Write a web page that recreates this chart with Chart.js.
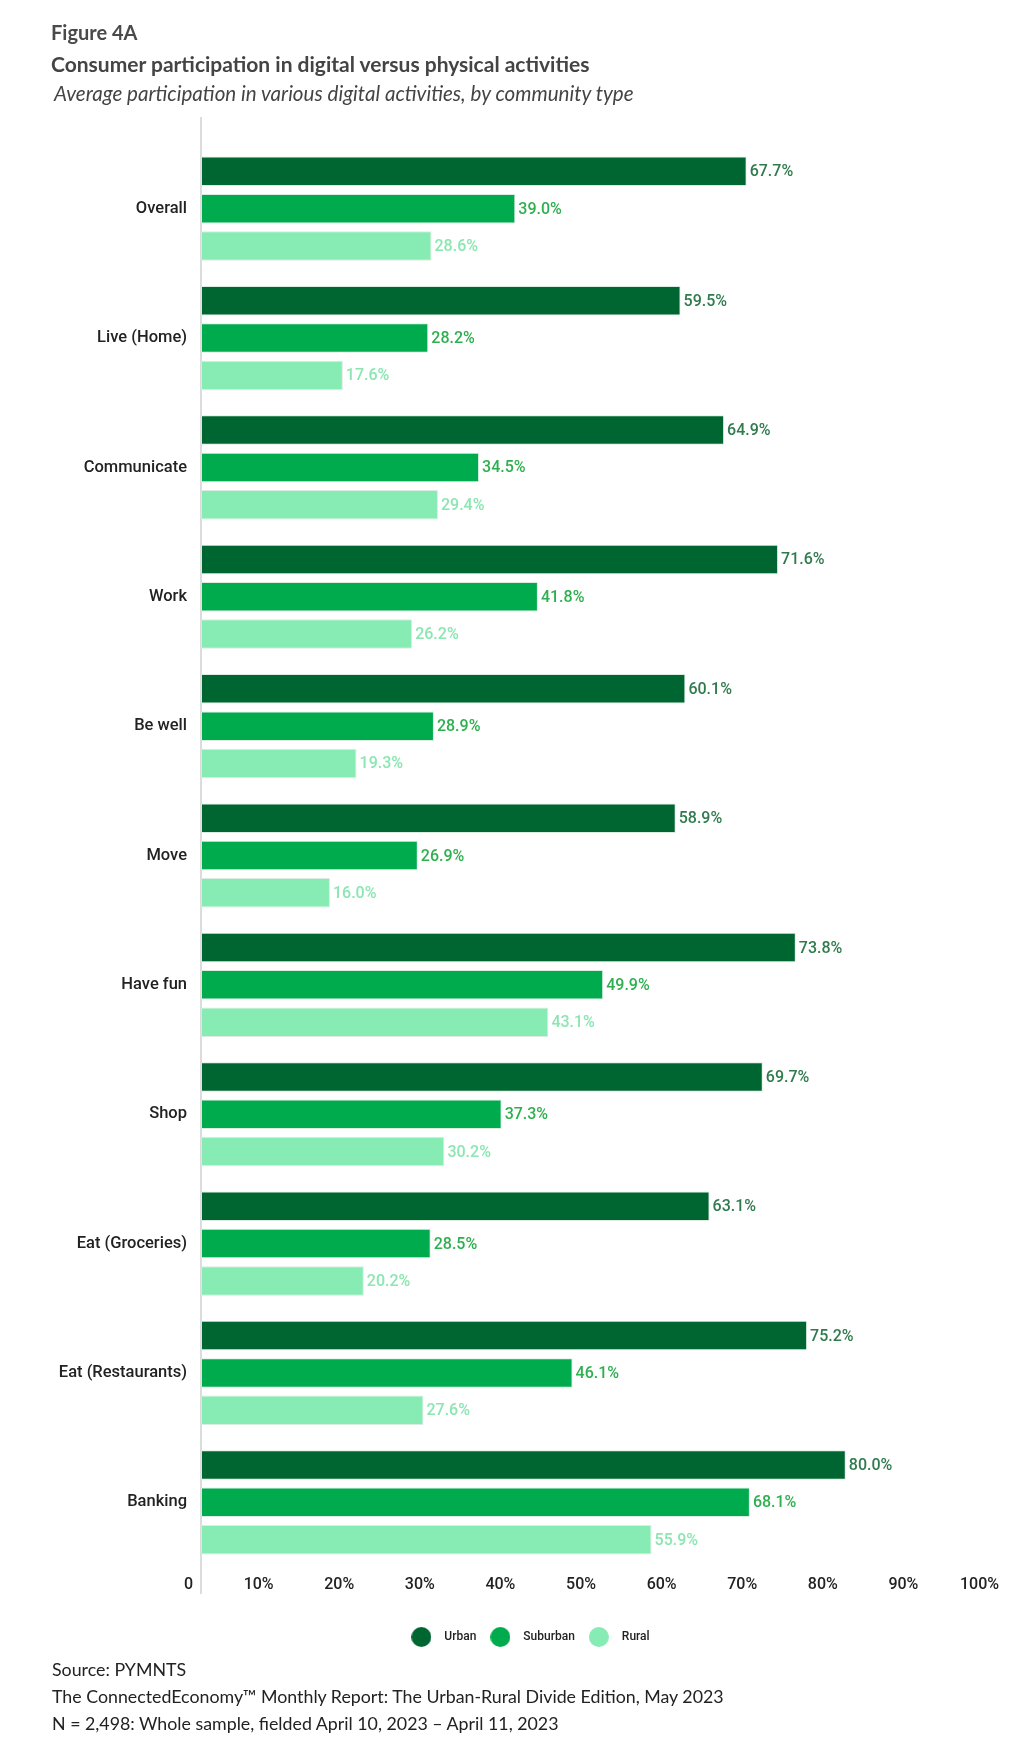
<!DOCTYPE html>
<html>
<head>
<meta charset="utf-8">
<title>Figure 4A</title>
<script src="https://cdn.jsdelivr.net/npm/chart.js@4.4.1/dist/chart.umd.min.js"></script>
<style>
  html, body { margin: 0; padding: 0; background: #fff; }
  body { width: 1028px; height: 1750px; position: relative; overflow: hidden; font-family: Lato, sans-serif; }
  .txt { position: absolute; white-space: nowrap; }
  #fig { left: 51px; top: 22px; font-size: 20px; line-height: 20px; font-weight: 700; color: #4a4a4a; }
  #title { left: 51px; top: 53px; font-size: 21px; line-height: 21px; font-weight: 700; color: #444; }
  #subtitle { left: 54px; top: 83px; font-size: 20.6px; line-height: 21px; font-style: italic; color: #444; }
  #footer { left: 52px; top: 1656px; font-size: 17.8px; line-height: 26.8px; color: #222; }
  #chartBox { position: absolute; left: 0; top: 0; width: 1028px; height: 1750px; }
</style>
</head>
<body>
<div id="chartBox"><canvas id="barChart"></canvas></div>
<div class="txt" id="fig">Figure 4A</div>
<div class="txt" id="title">Consumer participation in digital versus physical activities</div>
<div class="txt" id="subtitle">Average participation in various digital activities, by community type</div>
<div class="txt" id="footer">Source: PYMNTS<br>The ConnectedEconomy™ Monthly Report: The Urban-Rural Divide Edition, May 2023<br>N = 2,498: Whole sample, fielded April 10, 2023 – April 11, 2023</div>

<script>
const categories = [
  "Overall",
  "Live (Home)",
  "Communicate",
  "Work",
  "Be well",
  "Move",
  "Have fun",
  "Shop",
  "Eat (Groceries)",
  "Eat (Restaurants)",
  "Banking"
];

const seriesNames = ["Urban", "Suburban", "Rural"];

const urbanValues = [67.7, 59.5, 64.9, 71.6, 60.1, 58.9, 73.8, 69.7, 63.1, 75.2, 80.0];
const suburbanValues = [39.0, 28.2, 34.5, 41.8, 28.9, 26.9, 49.9, 37.3, 28.5, 46.1, 68.1];
const ruralValues = [28.6, 17.6, 29.4, 26.2, 19.3, 16.0, 43.1, 30.2, 20.2, 27.6, 55.9];

const tickValues = [0, 10, 20, 30, 40, 50, 60, 70, 80, 90, 100];

const barColors = ["#006631", "#00ab4e", "#87ebb4"];
const labelColors = ["#2f7b4d", "#2eb04f", "#8be6b2"];

// round legend marker, a bit bigger than the legend font allows
function dot(color) {
  const c = document.createElement("canvas");
  c.width = 20;
  c.height = 20;
  const g = c.getContext("2d");
  g.fillStyle = color;
  g.beginPath();
  g.arc(10, 10, 10, 0, Math.PI * 2);
  g.fill();
  return c;
}

// value labels at the end of each bar
const valueLabels = {
  id: "valueLabels",
  afterDatasetsDraw(chart) {
    const ctx = chart.ctx;
    ctx.save();
    ctx.font = "500 16px Roboto";
    ctx.textBaseline = "middle";
    ctx.textAlign = "left";
    chart.data.datasets.forEach((ds, i) => {
      const meta = chart.getDatasetMeta(i);
      ctx.fillStyle = labelColors[i];
      meta.data.forEach((bar, j) => {
        ctx.fillText(ds.data[j].toFixed(1) + "%", bar.x + 3, bar.y + 1);
      });
    });
    ctx.restore();
  }
};

// the vertical axis line runs a little past the first and last group
const axisLine = {
  id: "axisLine",
  beforeDatasetsDraw(chart) {
    const { ctx, chartArea } = chart;
    const x = chart.scales.x.getPixelForValue(0);
    ctx.save();
    ctx.strokeStyle = "#d0d0d0";
    ctx.lineWidth = 1.5;
    ctx.beginPath();
    ctx.moveTo(x, chartArea.top - 27);
    ctx.lineTo(x, chartArea.bottom + 27);
    ctx.stroke();
    ctx.restore();
  }
};

const seriesValues = [urbanValues, suburbanValues, ruralValues];

new Chart(document.querySelector("#barChart"), {
  type: "bar",
  data: {
    labels: categories,
    datasets: seriesNames.map((name, i) => ({
      label: name,
      data: seriesValues[i],
      backgroundColor: barColors[i],
      borderColor: "rgba(215, 235, 222, 0.9)",
      borderWidth: 1,
      borderSkipped: false,
      pointStyle: dot(barColors[i]),
      categoryPercentage: 0.866,
      barPercentage: 0.79
    }))
  },
  options: {
    indexAxis: "y",
    responsive: true,
    maintainAspectRatio: false,
    animation: false,
    layout: {
      padding: { top: 144, right: 21, left: 47, bottom: 97 }
    },
    scales: {
      x: {
        min: 0,
        max: 100,
        afterBuildTicks(scale) {
          scale.ticks = tickValues.map((v) => ({ value: v }));
        },
        afterFit(scale) {
          scale.height = 57;
        },
        grid: { display: false, drawTicks: false },
        border: { display: false },
        ticks: {
          align: "end",
          labelOffset: -8,
          padding: 8,
          color: "#222",
          font: { family: "Roboto", size: 16, weight: "500" },
          callback: (v) => (v === 0 ? "0" : v + "%")
        }
      },
      y: {
        afterFit(scale) {
          scale.width = 154;
        },
        grid: { display: false, drawTicks: false },
        border: { display: false },
        ticks: {
          padding: 14,
          color: "#222",
          font: { family: "Roboto", size: 16.5, weight: "500" }
        }
      }
    },
    plugins: {
      legend: {
        position: "bottom",
        labels: {
          usePointStyle: true,
          pointStyleWidth: 34,
          padding: 7,
          color: "#222",
          font: { family: "Roboto", size: 12, weight: "500" }
        }
      },
      tooltip: { enabled: false }
    }
  },
  plugins: [valueLabels, axisLine]
});
</script>
</body>
</html>
